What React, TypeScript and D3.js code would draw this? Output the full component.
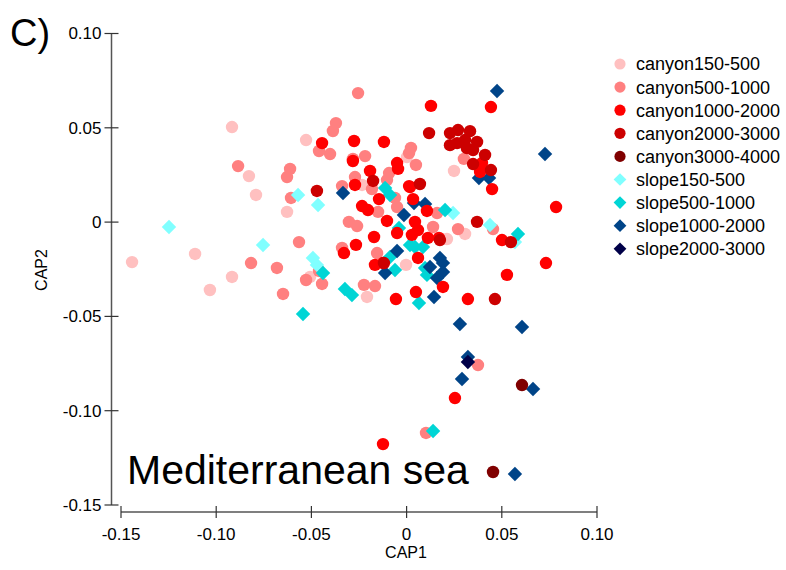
import React from "react";
import * as d3 from "d3";

// ---- Data (CAP1, CAP2) ----
const canyon150_500: [number, number][] = [
  [-0.0917, 0.0504], [-0.0828, 0.0244], [-0.0791, 0.0144], [-0.1442, -0.0212],
  [-0.1111, -0.0169], [-0.1033, -0.036], [-0.0917, -0.0291], [-0.0528, 0.0435],
  [-0.0628, 0.0054], [-0.0507, -0.0291], [-0.0208, -0.0397], [0.0002, 0.0345],
  [-0.0234, 0.0197], [0.0249, 0.0271], [-0.0003, -0.0227], [0.0212, -0.009],
  [0.0307, -0.0063],
];
const canyon500_1000: [number, number][] = [
  [-0.0255, 0.0684], [-0.0371, 0.0525], [-0.0387, 0.0483], [-0.046, 0.0377],
  [-0.0402, 0.0361], [0.0023, 0.0393], [0.0013, 0.0366], [-0.0218, 0.035],
  [-0.0282, 0.0335], [0.0049, 0.0303], [-0.0612, 0.0282], [-0.0628, 0.0239],
  [-0.0271, 0.0239], [-0.0092, 0.026], [-0.0103, 0.0223], [-0.0339, 0.0191],
  [-0.0182, 0.0175], [-0.0607, 0.0128], [-0.0061, 0.0128], [-0.015, 0.0054],
  [-0.005, 0.008], [-0.0303, 0.0001], [-0.026, -0.0021], [-0.0565, -0.0106],
  [-0.0885, 0.0297], [-0.0817, -0.0217], [-0.0681, -0.0243], [-0.046, -0.0259],
  [-0.0528, -0.0307], [-0.0444, -0.0328], [-0.0649, -0.0381], [-0.0224, -0.0333],
  [-0.0166, -0.0339], [-0.0339, -0.0137], [-0.0155, -0.0164], [0.0301, 0.0335],
  [0.016, 0.0048], [0.0139, -0.0026], [0.027, -0.0037], [0.0454, -0.0037],
  [0.0375, -0.0758], [0.0102, -0.1118],
];
const canyon1000_2000: [number, number][] = [
  [0.0128, 0.0616], [0.0443, 0.061], [-0.0444, 0.0419], [-0.0276, 0.043],
  [-0.0119, 0.0425], [-0.0282, 0.0324], [-0.005, 0.0313], [-0.0045, 0.0282],
  [-0.0192, 0.0271], [-0.0271, 0.0197], [-0.0145, 0.0122], [0.0018, 0.0186],
  [0.0034, 0.0122], [-0.0234, 0.0085], [-0.0203, 0.0064], [0.0107, 0.0059],
  [-0.0103, 0.0006], [0.0044, 0.0001], [-0.0171, -0.0079], [-0.005, -0.0058],
  [0.0028, -0.0068], [-0.0266, -0.0121], [-0.0329, -0.0164], [0.006, -0.019],
  [-0.0166, -0.0227], [-0.0124, -0.0217], [-0.0056, -0.0408], [0.0049, -0.0371],
  [0.0191, -0.0344], [0.0112, -0.0084], [0.017, -0.0084], [0.0449, 0.0175],
  [0.0396, 0.0313], [0.0386, 0.0266], [0.0785, 0.008], [0.0732, -0.0217],
  [0.0527, -0.028], [0.0501, -0.0095], [0.0322, -0.0408], [0.0254, -0.0933],
  [-0.0124, -0.1177], [0.006, -0.0042], [0.0013, 0.0191],
];
const canyon2000_3000: [number, number][] = [
  [0.0118, 0.0472], [0.0228, 0.0472], [0.027, 0.0488], [0.0333, 0.0482],
  [0.0228, 0.0408], [0.0265, 0.0419], [0.0307, 0.0435], [0.037, 0.0425],
  [0.0317, 0.0392], [0.0349, 0.0382], [0.0412, 0.0356], [0.0349, 0.0308],
  [0.0443, 0.0276], [-0.0176, 0.0218], [-0.0471, 0.0165], [0.007, 0.0202],
  [0.037, 0.0001], [0.0548, -0.0106], [0.0464, -0.0408], [-0.0119, -0.0217],
  [0.0175, -0.0095],
];
const canyon3000_4000: [number, number][] = [
  [0.0606, -0.0864], [0.0454, -0.1325],
];
const slope150_500: [number, number][] = [
  [-0.1248, -0.0026], [-0.0754, -0.0121], [-0.057, 0.0144], [-0.0465, 0.0091],
  [-0.0492, -0.019], [-0.0471, -0.0227], [0.0244, 0.0048], [0.0438, -0.0015],
  [0.0569, -0.0106],
];
const slope500_1000: [number, number][] = [
  [-0.0439, -0.027], [-0.0324, -0.0355], [-0.0287, -0.0387], [-0.0544, -0.0487],
  [-0.0113, 0.0181], [-0.0087, 0.0144], [-0.004, -0.0031], [-0.0061, -0.0254],
  [0.0044, -0.0132], [0.0097, -0.0243], [0.0107, -0.028], [0.0065, -0.0429],
  [0.0086, -0.0132], [0.0018, -0.0121], [0.0202, 0.0064], [0.0585, -0.0063],
  [0.0139, -0.1108], [-0.0087, -0.0185],
];
const slope1000_2000: [number, number][] = [
  [0.0475, 0.0695], [0.0727, 0.0361], [0.038, 0.0234], [0.0433, 0.0234],
  [-0.0334, 0.0154], [0.0039, 0.0101], [0.0097, 0.0096], [-0.0014, 0.0038],
  [-0.005, -0.0153], [0.0175, -0.019], [0.0191, -0.0217], [0.0123, -0.0238],
  [0.0191, -0.0265], [0.016, -0.0296], [-0.0113, -0.027], [0.0144, -0.0397],
  [0.028, -0.054], [0.0606, -0.0556], [0.0322, -0.0715], [0.0291, -0.0832],
  [0.0664, -0.0885], [0.0569, -0.1336],
];
const slope2000_3000: [number, number][] = [[0.0322, -0.0742]];

const seriesNames = [
  "canyon150-500", "canyon500-1000", "canyon1000-2000", "canyon2000-3000",
  "canyon3000-4000", "slope150-500", "slope500-1000", "slope1000-2000", "slope2000-3000",
];
const seriesColors = [
  "#ffc0c0", "#ff8080", "#ff0000", "#cc0000", "#800000",
  "#80ffff", "#00d5d5", "#004488", "#000048",
];
const seriesShapes = ["circle", "circle", "circle", "circle", "circle", "diamond", "diamond", "diamond", "diamond"];
const seriesData = [
  canyon150_500, canyon500_1000, canyon1000_2000, canyon2000_3000, canyon3000_4000,
  slope150_500, slope500_1000, slope1000_2000, slope2000_3000,
];
const drawOrder = [0, 1, 5, 6, 7, 8, 2, 3, 4];

const xTicks = [-0.15, -0.1, -0.05, 0, 0.05, 0.1];
const xTickLabels = ["-0.15", "-0.10", "-0.05", "0", "0.05", "0.10"];
const yTicks = [0.1, 0.05, 0, -0.05, -0.1, -0.15];
const yTickLabels = ["0.10", "0.05", "0", "-0.05", "-0.10", "-0.15"];

const FONT = "'Liberation Sans', Arial, sans-serif";

export default function App() {
  const W = 786, H = 570;
  const x = d3.scaleLinear().domain([-0.15, 0.1]).range([121, 597]);
  const y = d3.scaleLinear().domain([-0.15, 0.1]).range([505, 33.5]);
  const axisX = 111.5;
  const axisY = 512;
  const diamondBig = d3.symbol().type(d3.symbolSquare).size(10.2 * 10.2);
  const diamondSmall = d3.symbol().type(d3.symbolSquare).size(9 * 9);

  const marker = (i: number, cx: number, cy: number, key: string, scale = 1) => {
    const shape = seriesShapes[i];
    if (shape === "circle") {
      return <circle key={key} cx={cx} cy={cy} r={6.2 * scale} fill={seriesColors[i]} />;
    }
    return (
      <path
        key={key}
        d={(scale === 1 ? diamondBig : diamondSmall)() || ""}
        transform={`translate(${cx},${cy}) rotate(45)`}
        fill={seriesColors[i]}
      />
    );
  };

  return (
    <svg width={W} height={H} style={{ position: "absolute", left: 0, top: 0, background: "#fff" }} fontFamily={FONT}>
      <rect x={0} y={0} width={W} height={H} fill="#fff" />
      {/* Panel label */}
      <text x={10} y={46} fontSize={38} fill="#000">C)</text>

      {/* Y axis */}
      <line x1={axisX} x2={axisX} y1={y(0.1)} y2={y(-0.15)} stroke="#555" strokeWidth={1.5} />
      {yTicks.map((t, i) => (
        <g key={"yt" + i}>
          <line x1={axisX - 7} x2={axisX + 7} y1={y(t)} y2={y(t)} stroke="#333" strokeWidth={1.2} />
          <text x={axisX - 10} y={y(t)} dy="0.35em" textAnchor="end" fontSize={17} fill="#000">
            {yTickLabels[i]}
          </text>
        </g>
      ))}
      <text transform={`translate(47,270) rotate(-90)`} textAnchor="middle" fontSize={16} fill="#000">CAP2</text>

      {/* X axis */}
      <line x1={x(-0.15)} x2={x(0.1)} y1={axisY} y2={axisY} stroke="#555" strokeWidth={1.5} />
      {xTicks.map((t, i) => (
        <g key={"xt" + i}>
          <line x1={x(t)} x2={x(t)} y1={axisY - 6} y2={axisY + 6} stroke="#333" strokeWidth={1.2} />
          <text x={x(t)} y={540} textAnchor="middle" fontSize={17} fill="#000">
            {xTickLabels[i]}
          </text>
        </g>
      ))}
      <text x={406} y={558} textAnchor="middle" fontSize={16} fill="#000">CAP1</text>

      {/* Points */}
      {drawOrder.map((si) =>
        seriesData[si].map((p, j) => marker(si, x(p[0]), y(p[1]), `p${si}-${j}`))
      )}

      {/* Annotation */}
      <text x={127} y={484} fontSize={41} fill="#000">Mediterranean sea</text>

      {/* Legend */}
      {seriesNames.map((name, i) => {
        const ly = 64 + i * 23.1;
        return (
          <g key={"lg" + i}>
            {marker(i, 620, ly, "lm" + i, 0.9)}
            <text x={636} y={ly} dy="0.36em" fontSize={18} fill="#000">{name}</text>
          </g>
        );
      })}
    </svg>
  );
}
